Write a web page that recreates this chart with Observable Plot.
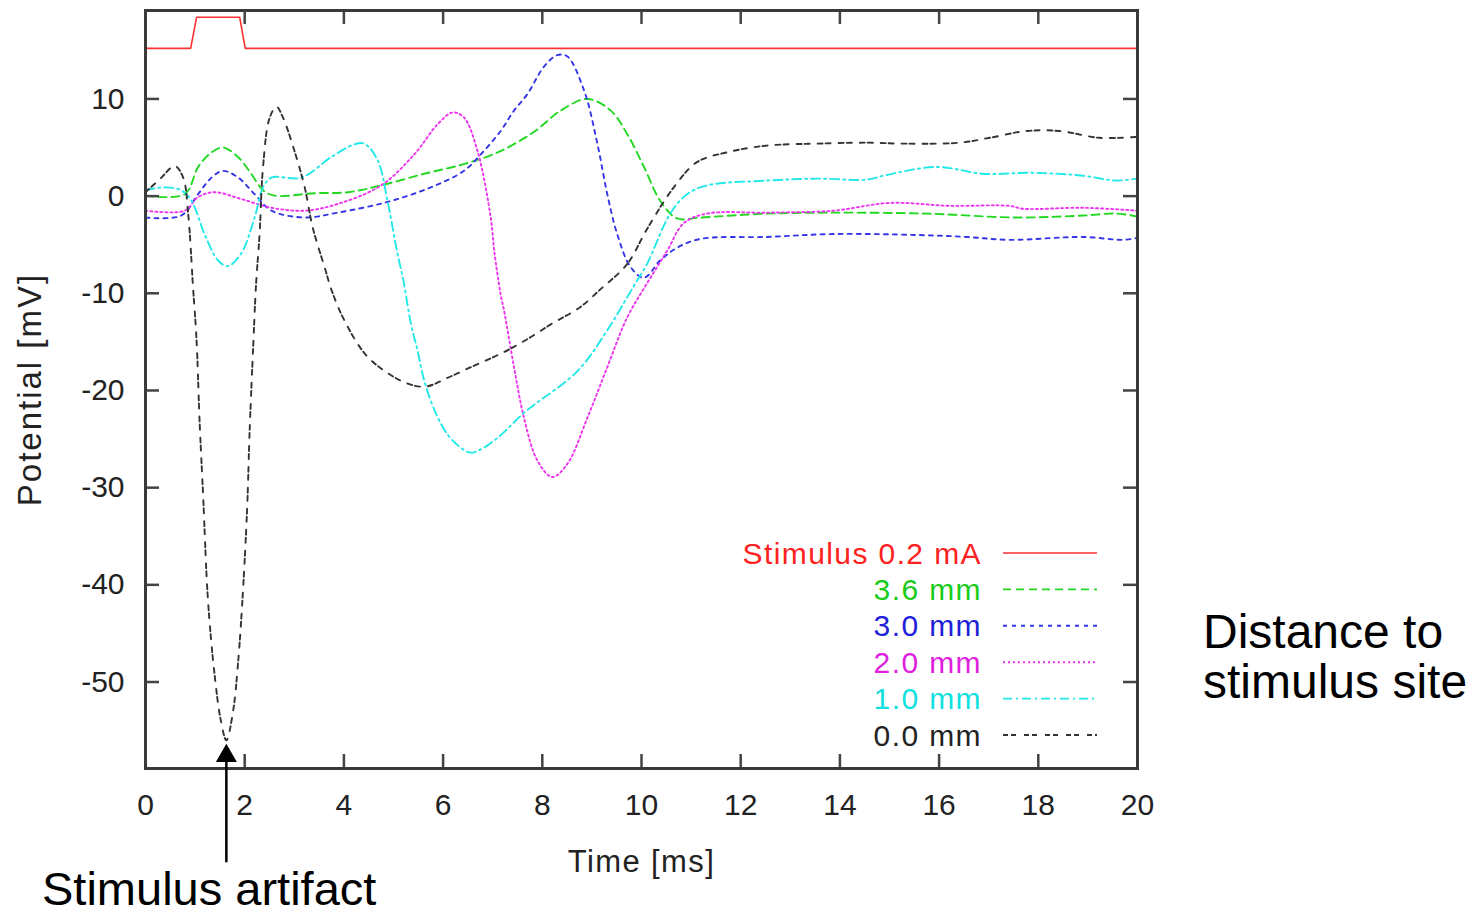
<!DOCTYPE html>
<html>
<head>
<meta charset="utf-8">
<script src="https://cdn.jsdelivr.net/npm/d3@7"></script>
<script src="https://cdn.jsdelivr.net/npm/@observablehq/plot@0.6"></script>
<style>
  html, body { margin: 0; padding: 0; background: #fff; }
  #wrap { position: relative; width: 1476px; height: 917px; font-family: "Liberation Sans", Arial, sans-serif; }
  #wrap > svg { position: absolute; left: 0; top: 0; }
</style>
</head>
<body>
<div id="wrap"></div>
<script>
// ---------- data (time [ms], potential [mV]) ----------
const stimulus = [[0,15.2],[0.91,15.2],[1.03,18.4],[1.9,18.4],[2.01,15.2],[20,15.2]];

const mm36 = [[0,0.05],[0.79,0.2],[1.06,3.0],[1.33,4.5],[1.56,5.0],[1.87,4.0],[2.13,2.3],[2.37,0.6],[2.6,0.05],
  [3.41,0.3],[4.08,0.4],[4.75,1.1],[5.62,2.3],[6.42,3.3],[7.1,4.5],[7.83,6.6],[8.37,8.8],[8.91,10.0],[9.38,8.8],
  [9.71,6.4],[10.05,3.0],[10.38,-0.5],[10.72,-2.3],[11.19,-2.2],[12.53,-1.8],[13.87,-1.7],[15.75,-1.8],[17.56,-2.2],
  [18.9,-2.0],[19.57,-1.8],[20,-2.1]];

const mm30 = [[0,-2.2],[0.72,-2.0],[1.06,0.2],[1.33,1.9],[1.56,2.6],[1.87,1.9],[2.2,0.2],[2.54,-1.5],[3.21,-2.2],
  [3.88,-1.7],[4.88,-0.6],[5.75,0.9],[6.42,2.6],[6.76,4.3],[7.16,6.7],[7.43,8.8],[7.7,10.5],[8.03,13.3],[8.3,14.5],
  [8.5,14.4],[8.84,10.9],[9.11,5.4],[9.31,0.2],[9.51,-3.9],[9.78,-7.3],[10.05,-8.4],[10.38,-6.6],[10.72,-5.3],
  [11.19,-4.4],[12.53,-4.2],[13.87,-3.9],[15.55,-4.0],[16.55,-4.2],[17.42,-4.5],[18.9,-4.2],[19.7,-4.5],[20,-4.3]];

const mm20 = [[0,-1.5],[0.79,-1.5],[1.06,-0.1],[1.39,0.4],[1.93,-0.3],[2.54,-1.2],[3.21,-1.5],[3.88,-0.8],[4.75,1.1],
  [5.42,4.3],[5.89,7.4],[6.19,8.6],[6.42,8.1],[6.69,4.7],[6.96,-2.2],[7.03,-5.6],[7.16,-10.1],[7.23,-11.8],[7.43,-17.6],
  [7.63,-22.8],[7.9,-27.2],[8.2,-28.9],[8.5,-27.6],[8.91,-22.8],[9.31,-17.6],[9.71,-12.5],[10.11,-9.0],[10.52,-5.6],
  [10.85,-2.8],[11.32,-1.8],[12.53,-1.7],[13.87,-1.5],[15.01,-0.7],[16.22,-1.0],[17.42,-1.0],[17.69,-1.3],[18.9,-1.2],[20,-1.5]];

const mm10 = [[0,0.6],[0.39,0.9],[0.72,0.6],[0.93,-0.5],[1.19,-3.9],[1.46,-6.6],[1.66,-7.2],[1.93,-5.9],[2.2,-2.2],
  [2.37,0.9],[2.54,1.9],[3.14,1.9],[3.74,4.0],[4.2,5.3],[4.41,5.4],[4.68,3.7],[4.88,-0.5],[5.08,-5.9],[5.2,-8.7],
  [5.35,-13.1],[5.49,-16.0],[5.62,-19.0],[5.85,-22.3],[6.1,-24.6],[6.36,-25.9],[6.56,-26.4],[6.85,-25.8],[7.16,-24.6],
  [7.63,-22.3],[7.83,-21.5],[8.71,-18.0],[9.31,-13.8],[9.85,-9.2],[10.11,-7.0],[10.58,-1.8],[10.92,0.2],[11.32,1.1],
  [12.53,1.6],[13.53,1.8],[14.54,1.7],[14.88,2.1],[15.95,3.0],[16.89,2.3],[17.89,2.4],[18.9,2.1],[19.57,1.6],[20,1.8]];

const mm00 = [[0,0.4],[0.3,1.8],[0.59,3.1],[0.76,1.9],[0.86,-1.8],[0.96,-9.5],[1.03,-14.9],[1.09,-23.1],[1.16,-30.6],
  [1.26,-41.6],[1.39,-49.1],[1.52,-54.0],[1.63,-56.0],[1.76,-53.2],[1.87,-47.8],[1.97,-40.2],[2.05,-32.0],[2.1,-24.1],
  [2.17,-15.6],[2.23,-9.0],[2.3,-3.9],[2.37,3.0],[2.5,8.0],[2.64,9.2],[2.77,8.1],[3.0,4.7],[3.21,0.9],[3.37,-3.2],
  [3.61,-7.3],[3.76,-9.8],[4.01,-12.8],[4.42,-16.2],[4.82,-18.0],[5.29,-19.3],[5.65,-19.6],[6.09,-18.7],[6.56,-17.6],
  [7.0,-16.6],[7.36,-15.7],[7.77,-14.5],[8.17,-13.2],[8.77,-11.4],[9.17,-9.6],[9.71,-7.0],[10.11,-3.4],[10.65,0.9],
  [11.12,3.5],[11.72,4.5],[12.53,5.2],[13.53,5.4],[14.54,5.5],[15.3,5.4],[16.42,5.5],[17.02,6.0],[17.76,6.7],
  [18.43,6.7],[19.23,6.0],[20,6.1]];

const seriesNames = ["Stimulus 0.2 mA", "3.6 mm", "3.0 mm", "2.0 mm", "1.0 mm", "0.0 mm"];
const seriesData  = [stimulus, mm36, mm30, mm20, mm10, mm00];
const seriesColors = ["#ff3030", "#22d822", "#3535e8", "#ee33ee", "#22e8e8", "#333333"];
const seriesDash   = [null, "8,5", "4,5", "2,3", "9,4,2,4", "5,3,5,8"];
const seriesTextColors = ["#ff2020", "#18cc18", "#2020d8", "#e020e0", "#10e0e0", "#222222"];

const xTicks = [0,2,4,6,8,10,12,14,16,18,20];
const yTicks = [-50,-40,-30,-20,-10,0,10];
const xDomain = [0, 20];
const yDomain = [-58.9, 19.1];

// annotation: stimulus artifact arrow (time, shaft bottom, head top, head centre)
const artifactArrow = [{t: 1.63, yBottom: -68.6, yHeadTop: -57.0, yHead: -57.6}];

// ---------- layout ----------
const W = 1476, H = 917;
const mL = 145, mR = 339, mT = 10, mB = 149;
const plotW = W - mL - mR, plotH = H - mT - mB;
const font = '"Liberation Sans", Arial, sans-serif';

const rows = [];
seriesData.forEach((s, i) => s.forEach(([t, v]) => rows.push({t, v, name: seriesNames[i], i})));

const lineMarks = seriesData.map((s, i) =>
  Plot.line(rows.filter(d => d.i === i), {
    x: "t", y: "v",
    stroke: seriesColors[i],
    strokeWidth: i === 0 ? 1.6 : 1.9,
    strokeDasharray: seriesDash[i],
    curve: i === 0 ? "linear" : "catmull-rom"
  })
);

const chart = Plot.plot({
  width: W, height: H,
  marginLeft: mL, marginRight: mR, marginTop: mT, marginBottom: mB,
  style: {fontFamily: font, color: "#222", background: "transparent", overflow: "visible"},
  x: {domain: xDomain},
  y: {domain: yDomain},
  marks: [
    ...lineMarks,
    // inward ticks on all four sides
    Plot.ruleX(xTicks, {x: d => d, insetTop: plotH - 14, stroke: "#444", strokeWidth: 2.5}),
    Plot.ruleX(xTicks, {x: d => d, insetBottom: plotH - 14, stroke: "#444", strokeWidth: 2.5}),
    Plot.ruleY(yTicks, {y: d => d, insetRight: plotW - 14, stroke: "#444", strokeWidth: 2.5}),
    Plot.ruleY(yTicks, {y: d => d, insetLeft: plotW - 14, stroke: "#444", strokeWidth: 2.5}),
    Plot.axisX({ticks: xTicks, tickSize: 0, tickPadding: 25, fontSize: 30, tickFormat: d => String(d),
      label: "Time [ms]", labelAnchor: "center", labelOffset: 103, labelArrow: "none"}),
    Plot.axisY({ticks: yTicks, tickSize: 0, tickPadding: 21, fontSize: 30, tickFormat: d => String(d),
      label: "Potential [mV]", labelAnchor: "center", labelOffset: 128, labelArrow: "none"}),
    Plot.frame({stroke: "#3a3a3a", strokeWidth: 3}),
    // stimulus artifact arrow
    Plot.ruleX(artifactArrow, {x: "t", y1: "yBottom", y2: "yHeadTop", stroke: "#000", strokeWidth: 2.5}),
    Plot.dot(artifactArrow, {x: "t", y: "yHead", symbol: "triangle", r: 7.8, fill: "#000", stroke: null})
  ]
});
chart.querySelectorAll("text").forEach(t => t.style.fontFamily = font);
chart.querySelectorAll('[aria-label="x-axis label"] text').forEach(t => {
  t.style.letterSpacing = "1.4px"; t.style.fontSize = "31px";
});
chart.querySelectorAll('[aria-label="y-axis label"] text').forEach(t => {
  t.style.letterSpacing = "2px"; t.style.fontSize = "33px";
});
document.getElementById("wrap").appendChild(chart);

// ---------- legend + annotations overlay ----------
const ov = d3.select("#wrap").append("svg")
  .attr("width", W).attr("height", H)
  .style("pointer-events", "none")
  .style("font-family", font);

const legY0 = 553, legDy = 36.4, legTextX = 982, legX1 = 1003, legX2 = 1097;
seriesNames.forEach((name, i) => {
  const y = legY0 + i * legDy;
  ov.append("text")
    .attr("x", legTextX).attr("y", y)
    .attr("text-anchor", "end").attr("dominant-baseline", "central")
    .attr("font-size", 30).attr("letter-spacing", 1.4)
    .attr("fill", seriesTextColors[i])
    .text(name);
  ov.append("line")
    .attr("x1", legX1).attr("x2", legX2).attr("y1", y).attr("y2", y)
    .attr("stroke", seriesColors[i]).attr("stroke-width", i === 0 ? 1.6 : 1.9)
    .attr("stroke-dasharray", seriesDash[i]);
});

const notes = [
  {text: "Stimulus artifact", x: 42, y: 905, size: 47},
  {text: "Distance to", x: 1203, y: 648, size: 48},
  {text: "stimulus site", x: 1203, y: 698, size: 48}
];
notes.forEach(n => {
  ov.append("text").attr("x", n.x).attr("y", n.y)
    .attr("font-size", n.size).attr("fill", "#000").text(n.text);
});
</script>
</body>
</html>
